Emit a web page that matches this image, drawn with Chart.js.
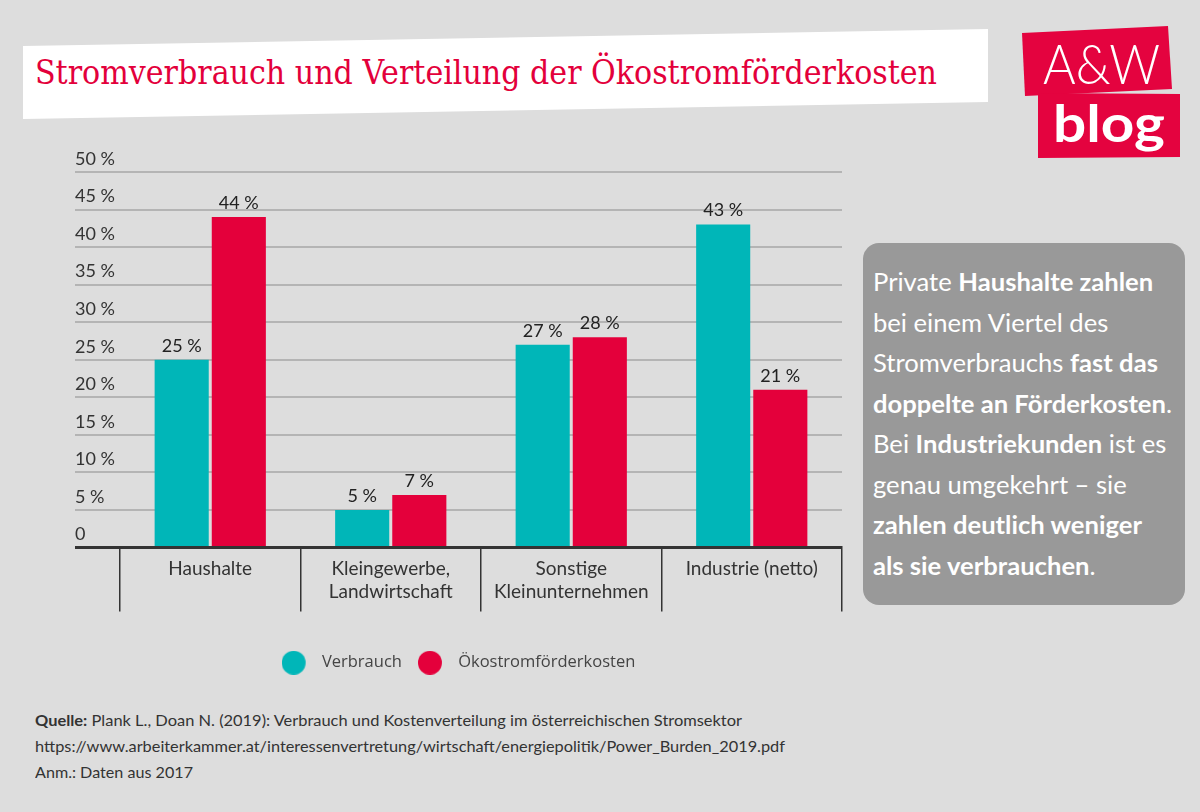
<!DOCTYPE html>
<html>
<head>
<meta charset="utf-8">
<script src="https://cdn.jsdelivr.net/npm/chart.js@4/dist/chart.umd.min.js"></script>
<style>
  html, body { margin: 0; padding: 0; }
  body { width: 1200px; height: 812px; background: #dddddd; position: relative; overflow: hidden; font-family: Lato, "Open Sans", sans-serif; }
  #titlebox { position: absolute; left: 0; top: 0; width: 1200px; height: 812px; background: #ffffff;
    clip-path: polygon(23px 46px, 988px 29px, 988px 102px, 23px 119px); }
  #title { position: absolute; left: 35px; top: 52px; color: #e3003b; font-family: "DejaVu Serif Condensed", "DejaVu Serif", serif;
    font-size: 34px; line-height: 40px; white-space: nowrap; transform-origin: 0 0; width: max-content; }
  .logo { position: absolute; background: #e4033f; left: 0; top: 0; width: 1200px; height: 812px; }
  #logo1 { clip-path: polygon(1022px 33px, 1168px 26px, 1172px 89px, 1025px 96px); }
  #logo2 { clip-path: polygon(1038px 93px, 1180px 94px, 1180px 157px, 1038px 158px); }
  #aw { position: absolute; left: 1043px; top: 33px; color: #fff; font-size: 55px; line-height: 60px; font-weight: 300; white-space: nowrap; transform-origin: 0 0; width: max-content; }
  #blog { position: absolute; left: 1053px; top: 92px; color: #fff; font-size: 52px; line-height: 60px; font-weight: 700; white-space: nowrap; transform-origin: 0 0; width: max-content; }
  #chartwrap { position: absolute; left: 0; top: 150px; width: 860px; height: 531px; }
  #note { position: absolute; left: 863px; top: 243px; width: 322px; height: 362px; background: #999999; border-radius: 16px; }
  #notetext { position: absolute; left: 10px; top: 19px; color: #fff; font-size: 24.5px; line-height: 40.5px; white-space: nowrap; width: max-content; transform-origin: 0 0; }
  #notetext b { font-weight: 700; }
  #foot { position: absolute; left: 35px; top: 707px; color: #333; font-size: 16px; line-height: 26px; }
  #foot div { white-space: nowrap; transform-origin: 0 0; width: max-content; }
</style>
</head>
<body>
<div id="titlebox"></div>
<div id="title">Stromverbrauch und Verteilung der Ökostromförderkosten</div>
<div class="logo" id="logo1"></div>
<div class="logo" id="logo2"></div>
<div id="aw">A&amp;W</div>
<div id="blog">blog</div>
<div id="chartwrap"><canvas id="c" width="860" height="531"></canvas></div>
<div id="note"><div id="notetext">Private <b>Haushalte zahlen</b><br>bei einem Viertel des<br>Stromverbrauchs <b>fast das</b><br><b>doppelte an Förderkosten</b>.<br>Bei <b>Industriekunden</b> ist es<br>genau umgekehrt – sie<br><b>zahlen deutlich weniger</b><br><b>als sie verbrauchen</b>.</div></div>
<div id="foot">
  <div id="f1"><b>Quelle:</b> Plank L., Doan N. (2019): Verbrauch und Kostenverteilung im österreichischen Stromsektor</div>
  <div id="f2">https://www.arbeiterkammer.at/interessenvertretung/wirtschaft/energiepolitik/Power_Burden_2019.pdf</div>
  <div id="f3">Anm.: Daten aus 2017</div>
</div>
<script>
// ---- data ----
const categories = [["Haushalte"], ["Kleingewerbe,", "Landwirtschaft"], ["Sonstige", "Kleinunternehmen"], ["Industrie (netto)"]];
const seriesNames = ["Verbrauch", "Ökostromförderkosten"];
const verbrauch = [25, 5, 27, 43];
const foerderkosten = [44, 7, 28, 21];
const yTicks = [0, 5, 10, 15, 20, 25, 30, 35, 40, 45, 50];

// ---- fit helper text widths ----
function fitWidth(id, target) {
  const el = document.getElementById(id);
  const w = el.getBoundingClientRect().width;
  el.style.transform = 'scaleX(' + (target / w) + ')';
}
fitWidth('title', 902);
fitWidth('aw', 117);
fitWidth('blog', 112);
fitWidth('f1', 707);
fitWidth('f2', 750);
fitWidth('f3', 158);
fitWidth('notetext', 299);

const cyan = '#00b6b8';
const red = '#e4003b';

// legend marker: circle with extra room on its right
function legendDot(color) {
  const cv = document.createElement('canvas');
  cv.width = 32; cv.height = 24;
  const g = cv.getContext('2d');
  g.fillStyle = color;
  g.beginPath(); g.arc(12, 12, 12, 0, Math.PI * 2); g.fill();
  return cv;
}

const valueLabels = {
  id: 'valueLabels',
  afterDatasetsDraw(chart) {
    const ctx = chart.ctx;
    ctx.save();
    ctx.font = '18px Lato';
    ctx.fillStyle = '#222';
    ctx.textAlign = 'center';
    ctx.textBaseline = 'bottom';
    chart.data.datasets.forEach((ds, i) => {
      const meta = chart.getDatasetMeta(i);
      meta.data.forEach((bar, j) => {
        ctx.fillText(ds.data[j] + ' %', bar.x, bar.y - 5);
      });
    });
    ctx.restore();
  }
};

new Chart(document.getElementById('c'), {
  type: 'bar',
  data: {
    labels: categories,
    datasets: [
      { label: seriesNames[0], data: verbrauch, backgroundColor: cyan, pointStyle: legendDot(cyan) },
      { label: seriesNames[1], data: foerderkosten, backgroundColor: red, pointStyle: legendDot(red) }
    ]
  },
  options: {
    responsive: false,
    animation: false,
    layout: { padding: { left: 75, right: 18, top: 22, bottom: 0 } },
    datasets: { bar: { categoryPercentage: 0.633, barPercentage: 0.947 } },
    scales: {
      x: {
        offset: true,
        grid: { offset: true, drawOnChartArea: false, drawTicks: true, tickLength: 64, color: '#333', lineWidth: 1.5 },
        border: { display: true, color: '#333', width: 3 },
        ticks: { color: '#333', font: { family: 'Lato', size: 19 }, padding: -54, maxRotation: 0, autoSkip: false },
        afterFit(scale) { scale.height = 91; }
      },
      y: {
        min: 0, max: 50,
        afterBuildTicks(scale) { scale.ticks = yTicks.map(v => ({ value: v })); },
        grid: {
          color: c => (c.tick && c.tick.value === 0) ? '#333' : '#b4b4b4',
          lineWidth: c => (c.tick && c.tick.value === 0) ? 3 : 2,
          tickLength: 45, drawTicks: true
        },
        border: { display: false },
        ticks: {
          crossAlign: 'far', padding: 0, labelOffset: -13,
          color: '#333', font: { family: 'Lato', size: 18 },
          callback: v => v === 0 ? '0' : v + ' %'
        },
        afterFit(scale) { scale.width = 45; }
      }
    },
    plugins: {
      legend: {
        position: 'bottom',
        labels: { usePointStyle: true, pointStyleWidth: 32, padding: 16, color: '#444', font: { family: 'Open Sans', size: 16.5 } }
      },
      tooltip: { enabled: false }
    }
  },
  plugins: [valueLabels]
});
</script>
</body>
</html>
